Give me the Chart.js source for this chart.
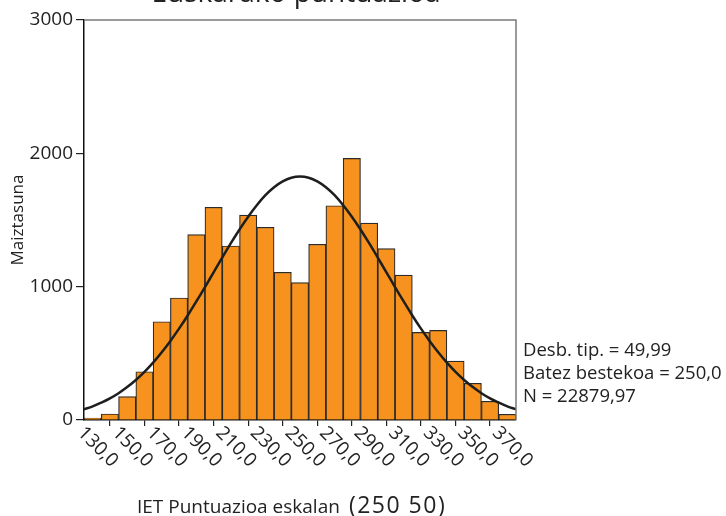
<!DOCTYPE html>
<html>
<head>
<meta charset="utf-8">
<script src="https://cdn.jsdelivr.net/npm/chart.js@4.4.1/dist/chart.umd.min.js"></script>
<style>
  body { margin: 0; background: #fff; }
</style>
</head>
<body>
<canvas id="chart" width="726" height="516"></canvas>
<script>
// histogram bins (centre of each 10-point bin) and counts
const binCenters = [130, 140, 150, 160, 170, 180, 190, 200, 210, 220, 230, 240, 250,
  260, 270, 280, 290, 300, 310, 320, 330, 340, 350, 360, 370];
const counts = [15, 45, 175, 362, 737, 915, 1390, 1595, 1305, 1537, 1445, 1108, 1030,
  1318, 1607, 1962, 1477, 1285, 1087, 657, 672, 442, 275, 140, 43];

// normal curve
const curveX = [125, 130, 135, 140, 145, 150, 155, 160, 165, 170, 175, 180, 185, 190, 195,
  200, 205, 210, 215, 220, 225, 230, 235, 240, 245, 250, 255, 260, 265, 270, 275, 280,
  285, 290, 295, 300, 305, 310, 315, 320, 325, 330, 335, 340, 345, 350, 355, 360, 365, 370, 375];
const curveY = [80, 102, 130, 162, 201, 247, 300, 361, 430, 508, 593, 685, 784, 889, 997,
  1107, 1218, 1326, 1429, 1525, 1611, 1686, 1746, 1790, 1817, 1826, 1817, 1790, 1746, 1686,
  1611, 1525, 1429, 1326, 1218, 1107, 997, 889, 784, 685, 593, 508, 430, 361, 300, 247,
  201, 162, 130, 102, 80];

const xTicks = [130, 150, 170, 190, 210, 230, 250, 270, 290, 310, 330, 350, 370];
const xTickLabels = ['130,0', '150,0', '170,0', '190,0', '210,0', '230,0', '250,0',
  '270,0', '290,0', '310,0', '330,0', '350,0', '370,0'];
const yTicks = [0, 1000, 2000, 3000];
const yTickLabels = ['0', '1000', '2000', '3000'];

const statLines = ['Desb. tip. = 49,99', 'Batez bestekoa = 250,0', 'N = 22879,97'];
const titleText = 'Euskarako puntuazioa';
const xTitleText = 'IET Puntuazioa eskalan';
const xTitleNums = '(250 50)';

const FONT = "'Open Sans', sans-serif";
const INK = '#222';

// everything Chart.js can't place the way the picture does
const extras = {
  id: 'extras',
  afterDraw(chart) {
    const ctx = chart.ctx;
    const a = chart.chartArea;
    const xs = chart.scales.x;
    ctx.save();

    // frame top + right
    ctx.strokeStyle = '#7a7a7a';
    ctx.lineWidth = 1.5;
    ctx.beginPath();
    ctx.moveTo(a.left, a.top);
    ctx.lineTo(a.right, a.top);
    ctx.lineTo(a.right, a.bottom);
    ctx.stroke();

    ctx.fillStyle = INK;

    // title, cut off at the top edge
    ctx.font = '28px ' + FONT;
    ctx.textAlign = 'center';
    ctx.textBaseline = 'alphabetic';
    ctx.fillText(titleText, 296, 2);

    // rotated x tick labels
    ctx.font = '19px ' + FONT;
    ctx.textAlign = 'left';
    ctx.textBaseline = 'middle';
    xTicks.forEach((v, i) => {
      const px = xs.getPixelForValue(v);
      ctx.save();
      ctx.translate(px - 12, a.bottom + 10);
      ctx.rotate(Math.PI / 4);
      ctx.fillText(xTickLabels[i], 0, 0);
      ctx.restore();
    });

    // x axis title
    ctx.textBaseline = 'alphabetic';
    ctx.font = '19px ' + FONT;
    ctx.fillText(xTitleText, 137, 513);
    const w = ctx.measureText(xTitleText).width;
    ctx.font = '23px ' + FONT;
    ctx.letterSpacing = '1.5px';
    ctx.fillText(xTitleNums, 137 + w + 9, 513);
    ctx.letterSpacing = '0px';

    // stats box text
    ctx.font = '18.5px ' + FONT;
    statLines.forEach((t, i) => {
      ctx.fillText(t, 523, 356 + i * 23);
    });

    ctx.restore();
  }
};

new Chart(document.getElementById('chart'), {
  type: 'bar',
  data: {
    datasets: [
      {
        type: 'line',
        data: curveX.map((x, i) => ({ x: x, y: curveY[i] })),
        borderColor: '#1e1e1e',
        borderWidth: 2.5,
        pointRadius: 0,
        tension: 0.4,
        fill: false,
        order: 0
      },
      {
        type: 'bar',
        data: binCenters.map((x, i) => ({ x: x, y: counts[i] })),
        backgroundColor: '#F6921D',
        borderColor: '#2b2b2b',
        borderWidth: 1.2,
        barPercentage: 1.0,
        categoryPercentage: 1.0,
        order: 1
      }
    ]
  },
  options: {
    responsive: false,
    animation: false,
    layout: { padding: { top: 20, right: 210, left: 0, bottom: 0 } },
    plugins: {
      legend: { display: false },
      tooltip: { enabled: false }
    },
    scales: {
      x: {
        type: 'linear',
        min: 125,
        max: 375,
        offset: false,
        afterFit: (s) => { s.height = 96; },
        afterBuildTicks: (s) => { s.ticks = xTicks.map(v => ({ value: v })); },
        ticks: { display: false },
        grid: { drawOnChartArea: false, tickLength: 6, color: INK, lineWidth: 1.2 },
        border: { color: '#111', width: 1.5 }
      },
      y: {
        min: 0,
        max: 3000,
        afterFit: (s) => { s.width = 84; },
        afterBuildTicks: (s) => { s.ticks = yTicks.map(v => ({ value: v })); },
        ticks: {
          callback: (v) => yTickLabels[yTicks.indexOf(v)],
          font: { family: FONT, size: 19 },
          color: INK,
          padding: 3
        },
        grid: { drawOnChartArea: false, tickLength: 8, color: INK, lineWidth: 1.2 },
        border: { color: '#111', width: 1.5 },
        title: {
          display: true,
          text: 'Maiztasuna',
          font: { family: FONT, size: 17 },
          color: INK,
          padding: { top: 8, bottom: 0 }
        }
      }
    }
  },
  plugins: [extras]
});
</script>
</body>
</html>
